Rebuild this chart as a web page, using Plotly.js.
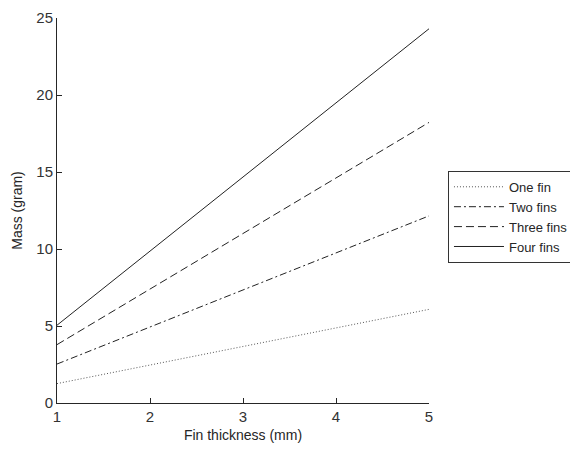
<!DOCTYPE html>
<html>
<head>
<meta charset="utf-8">
<script src="https://cdn.plot.ly/plotly-3.0.1.min.js"></script>
<style>html,body{margin:0;padding:0;background:#fff;}#chart{width:570px;height:451px;}</style>
</head>
<body>
<div id="chart"></div>
<script>
const thickness = [1, 2, 3, 4, 5];
const seriesNames = ["One fin", "Two fins", "Three fins", "Four fins"];
const oneFin = [1.26, 2.47, 3.68, 4.89, 6.08];
const twoFins = [2.53, 4.93, 7.34, 9.75, 12.15];
const threeFins = [3.79, 7.40, 11.01, 14.62, 18.22];
const fourFins = [5.05, 9.86, 14.67, 19.48, 24.3];
const xTicks = [1, 2, 3, 4, 5];
const yTicks = [0, 5, 10, 15, 20, 25];

const dashes = ["1px,2px", "7px,3px,2px,3px", "8px,4px", "solid"];
const values = [oneFin, twoFins, threeFins, fourFins];

const traces = values.map((v, i) => ({
  x: thickness, y: v, name: seriesNames[i], type: "scatter", mode: "lines",
  line: {color: i === 0 ? "#555" : "#222", width: 1, dash: dashes[i]}
}));

const font = {family: "Liberation Sans, Arial, sans-serif", color: "#262626"};
const layout = {
  width: 570, height: 451,
  margin: {l: 57, r: 141, t: 18, b: 48, autoexpand: false},
  paper_bgcolor: "#fff", plot_bgcolor: "#fff",
  font: Object.assign({}, font, {size: 14}),
  showlegend: true,
  legend: {x: 1.051, y: 0.603, xanchor: "left", yanchor: "top",
    bordercolor: "#333", borderwidth: 1, bgcolor: "#fff",
    font: Object.assign({}, font, {size: 13}), tracegroupgap: 0, itemwidth: 50},
  xaxis: {range: [1, 5], tickvals: xTicks, ticks: "inside", ticklen: 5, tickcolor: "#262626",
    showline: true, linecolor: "#262626", linewidth: 1, showgrid: false, zeroline: false,
    title: {text: "Fin thickness (mm)", font: Object.assign({}, font, {size: 14}), standoff: 6},
    tickfont: Object.assign({}, font, {size: 15, color: "#333"})},
  yaxis: {range: [0, 25], tickvals: yTicks, ticks: "inside", ticklen: 5, tickcolor: "#262626",
    showline: true, linecolor: "#262626", linewidth: 1, showgrid: false, zeroline: false,
    title: {text: "Mass (gram)", font: Object.assign({}, font, {size: 14}), standoff: 10},
    tickfont: Object.assign({}, font, {size: 15, color: "#333"})}
};
Plotly.newPlot("chart", traces, layout, {displayModeBar: false, staticPlot: true});
</script>
</body>
</html>
